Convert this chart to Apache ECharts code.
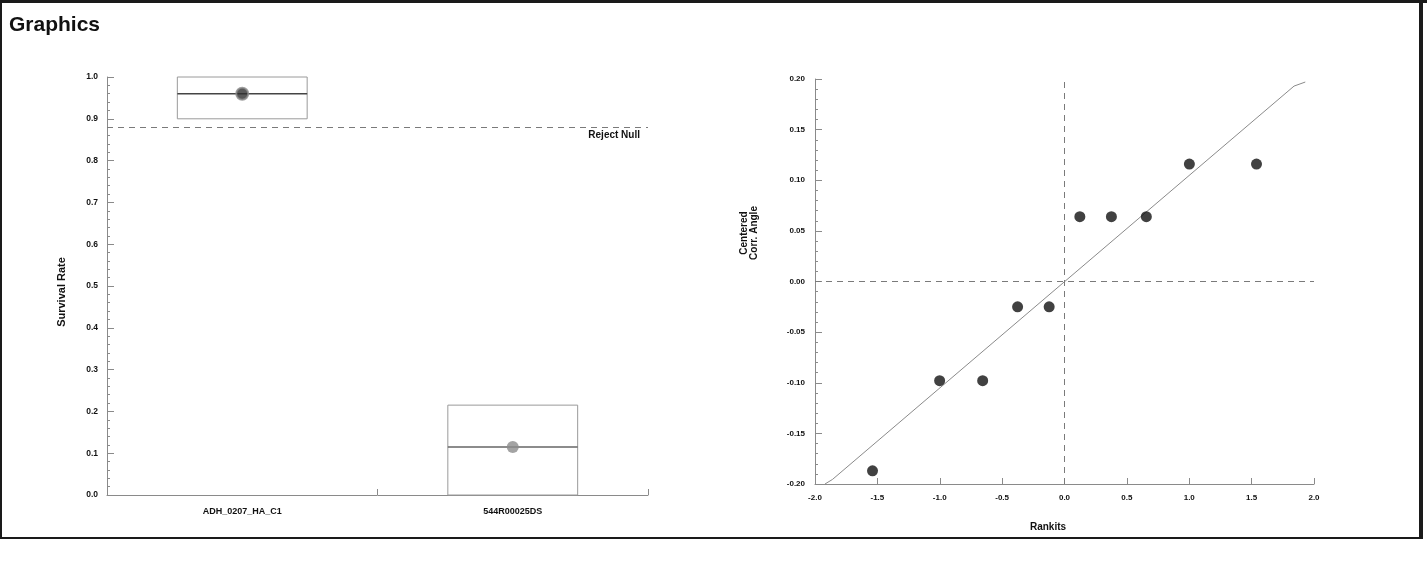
<!DOCTYPE html>
<html><head><meta charset="utf-8">
<script src="https://cdn.jsdelivr.net/npm/echarts@6/dist/echarts.min.js"></script>
<style>html,body{margin:0;padding:0;background:#fff}#c{width:1427px;height:561px}</style>
</head><body><div id="c"></div>
<script>
// ---- data ----
const categories = ['ADH_0207_HA_C1', '544R00025DS'];
const boxLow = [0.90, 0.0];
const boxHigh = [1.0, 0.215];
const boxMedian = [0.96, 0.115];
const rejectNull = 0.88;

const rankits = [-1.539, -1.001, -0.656, -0.376, -0.123, 0.123, 0.376, 0.656, 1.001, 1.539];
const corrAngle = [-0.187, -0.098, -0.098, -0.025, -0.025, 0.064, 0.064, 0.064, 0.116, 0.116];
const fitX = [-1.92, -1.86, 1.84, 1.93];
const fitY = [-0.200, -0.1955, 0.193, 0.197];

// ---- chart ----
const FONT = 'Liberation Sans';
const AX = '#8a8a8a';
const chart = echarts.init(document.getElementById('c'));

const labelStyle = { color: '#111', fontSize: 8, fontWeight: 'bold', fontFamily: FONT };

const option = {
  animation: false,
  backgroundColor: '#fff',
  grid: [
    { left: 107, right: 779, top: 77, bottom: 66 },
    { left: 815, right: 113, top: 79, bottom: 77 }
  ],
  xAxis: [
    {
      type: 'category', gridIndex: 0, data: categories, boundaryGap: true,
      axisLine: { show: true, onZero: false, lineStyle: { color: AX, width: 1 } },
      axisTick: { show: true, inside: true, length: 6, alignWithLabel: false, lineStyle: { color: AX } },
      axisLabel: Object.assign({}, labelStyle, { fontSize: 9, margin: 12 }),
      splitLine: { show: false }
    },
    {
      type: 'value', gridIndex: 1, min: -2, max: 2, interval: 0.5,
      axisLine: { show: true, onZero: false, lineStyle: { color: AX, width: 1 } },
      axisTick: { show: true, inside: true, length: 6, lineStyle: { color: AX } },
      axisLabel: Object.assign({}, labelStyle, { margin: 10, formatter: v => v.toFixed(1) }),
      splitLine: { show: false }
    }
  ],
  yAxis: [
    {
      type: 'value', gridIndex: 0, min: 0, max: 1, interval: 0.1,
      axisLine: { show: true, onZero: false, lineStyle: { color: AX, width: 1 } },
      axisTick: { show: true, inside: true, length: 7, lineStyle: { color: AX } },
      minorTick: { show: true, splitNumber: 5, length: 3, lineStyle: { color: AX } },
      axisLabel: Object.assign({}, labelStyle, { fontSize: 8.5, margin: 9, formatter: v => v.toFixed(1) }),
      splitLine: { show: false }, minorSplitLine: { show: false }
    },
    {
      type: 'value', gridIndex: 1, min: -0.2, max: 0.2, interval: 0.05,
      axisLine: { show: true, onZero: false, lineStyle: { color: AX, width: 1 } },
      axisTick: { show: true, inside: true, length: 7, lineStyle: { color: AX } },
      minorTick: { show: true, splitNumber: 5, length: 3, lineStyle: { color: AX } },
      axisLabel: Object.assign({}, labelStyle, { margin: 10, formatter: v => v.toFixed(2) }),
      splitLine: { show: false }, minorSplitLine: { show: false }
    }
  ],
  series: [
    {
      type: 'custom', xAxisIndex: 0, yAxisIndex: 0, z: 2,
      data: categories.map((c, i) => [i, boxLow[i], boxHigh[i], boxMedian[i]]),
      encode: { x: 0, y: [1, 2] },
      renderItem: function (params, api) {
        const cx = api.coord([api.value(0), 0])[0];
        const yLow = api.coord([api.value(0), api.value(1)])[1];
        const yHigh = api.coord([api.value(0), api.value(2)])[1];
        const yMed = api.coord([api.value(0), api.value(3)])[1];
        const w = api.size([1, 0])[0] * 0.48;
        return {
          type: 'group',
          children: [
            { type: 'rect', shape: { x: cx - w / 2, y: yHigh, width: w, height: yLow - yHigh },
              style: { fill: 'rgba(0,0,0,0)', stroke: '#9a9a9a', lineWidth: 1 } },
            { type: 'line', shape: { x1: cx - w / 2, y1: yMed, x2: cx + w / 2, y2: yMed },
              style: { stroke: params.dataIndex === 0 ? '#444' : '#666', lineWidth: 1.5 } }
          ]
        };
      }
    },
    {
      type: 'scatter', xAxisIndex: 0, yAxisIndex: 0, z: 3, symbolSize: 12,
      data: categories.map((c, i) => ({
        value: [i, boxMedian[i]],
        itemStyle: i === 0 ? { color: '#2e2e2e', borderColor: '#8a8a8a', borderWidth: 2 } : { color: '#8c8c8c' }
      })),
      markLine: {
        silent: true, symbol: 'none',
        lineStyle: { type: [6, 5], color: '#7a7a7a', width: 1 },
        label: { show: true, position: 'insideEndBottom', formatter: 'Reject Null', color: '#111',
                 fontSize: 10, fontWeight: 'bold', fontFamily: FONT, distance: [8, 3] },
        data: [{ yAxis: rejectNull }]
      }
    },
    {
      type: 'line', xAxisIndex: 1, yAxisIndex: 1, z: 2, showSymbol: false, symbol: 'none',
      data: fitX.map((x, i) => [x, fitY[i]]),
      lineStyle: { color: '#8a8a8a', width: 1 },
      markLine: {
        silent: true, symbol: 'none',
        lineStyle: { type: [6, 5], color: '#7a7a7a', width: 1 },
        label: { show: false },
        data: [{ xAxis: 0 }, { yAxis: 0 }]
      }
    },
    {
      type: 'scatter', xAxisIndex: 1, yAxisIndex: 1, z: 3, symbolSize: 11,
      itemStyle: { color: '#111' },
      data: rankits.map((x, i) => [x, corrAngle[i]])
    }
  ],
  graphic: [
    { type: 'text', x: 9, y: 25, style: { text: 'Graphics', fill: '#111', font: 'bold 21px "Liberation Sans"', align: 'left', verticalAlign: 'middle' } },
    { type: 'text', x: 62, y: 292, rotation: Math.PI / 2, style: { text: 'Survival Rate', fill: '#111', font: 'bold 11px "Liberation Sans"', align: 'center', verticalAlign: 'middle' } },
    { type: 'text', x: 749, y: 233, rotation: Math.PI / 2, style: { text: 'Centered\nCorr. Angle', fill: '#111', font: 'bold 10px "Liberation Sans"', lineHeight: 10, align: 'center', verticalAlign: 'middle' } },
    { type: 'text', x: 1048, y: 527, style: { text: 'Rankits', fill: '#111', font: 'bold 10px "Liberation Sans"', align: 'center', verticalAlign: 'middle' } },
    { type: 'rect', shape: { x: 0, y: 0, width: 1427, height: 3 }, style: { fill: '#1a1a1a' }, silent: true },
    { type: 'rect', shape: { x: 0, y: 0, width: 2, height: 539 }, style: { fill: '#1a1a1a' }, silent: true },
    { type: 'rect', shape: { x: 0, y: 537, width: 1423, height: 2 }, style: { fill: '#1a1a1a' }, silent: true },
    { type: 'rect', shape: { x: 1419, y: 0, width: 4, height: 539 }, style: { fill: '#1a1a1a' }, silent: true }
  ]
};
chart.setOption(option);
</script>
</body></html>
